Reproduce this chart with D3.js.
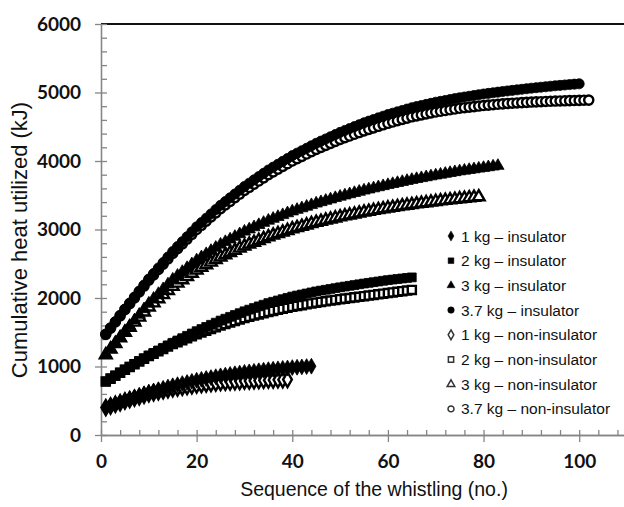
<!DOCTYPE html>
<html>
<head>
<meta charset="utf-8">
<script src="https://d3js.org/d3.v7.min.js"></script>
<style>
  body { margin: 0; background: #fff; }
  .tickLabel { font-family: Lato, "Liberation Sans", sans-serif; font-weight: bold; font-size: 19px; fill: #111; }
  .axisText { font-family: "Liberation Sans", Arial, sans-serif; font-size: 19.5px; fill: #111; }
  .legendText { font-family: "Liberation Sans", Arial, sans-serif; font-size: 15.5px; fill: #111; }
</style>
</head>
<body>
<div id="chart"></div>
<script>
//svg size
let svgWidth = 624;
let svgHeight = 507;

//cumulative heat (kJ) for each whistle, whistle no. = index + 1
let ins1 = [400,426,452,478,504,528,552,576,600,624,643,662,681,700,719,735,751,767,783,799,812,825,838,851,864,874,884,894,904,914,922,930,938,946,954,960,966,972,978,984,989,994,999,1004];
let ins2 = [780,824,868,912,956,997,1038,1079,1120,1161,1198,1235,1272,1309,1346,1380,1414,1448,1482,1516,1547,1578,1609,1640,1671,1698,1725,1752,1779,1806,1830,1854,1878,1902,1926,1945,1964,1983,2002,2021,2036,2051,2066,2081,2096,2108,2120,2132,2144,2156,2167,2178,2189,2200,2211,2221,2231,2241,2251,2261,2269,2277,2285,2293,2301];
let ins3 = [1170,1255,1340,1425,1510,1592,1674,1756,1838,1920,1990,2060,2130,2200,2270,2326,2382,2438,2494,2550,2596,2642,2688,2734,2780,2818,2856,2894,2932,2970,3002,3034,3066,3098,3130,3157,3184,3211,3238,3265,3288,3311,3334,3357,3380,3400,3420,3440,3460,3480,3498,3516,3534,3552,3570,3586,3602,3618,3634,3650,3665,3680,3695,3710,3725,3738,3751,3764,3777,3790,3802,3814,3826,3838,3850,3860,3870,3880,3890,3900,3910,3920,3930];
let ins37 = [1470,1562,1654,1746,1838,1926,2014,2102,2190,2278,2358,2438,2518,2598,2678,2750,2822,2894,2966,3038,3101,3164,3227,3290,3353,3408,3463,3518,3573,3628,3676,3724,3772,3820,3868,3910,3952,3994,4036,4078,4114,4150,4186,4222,4258,4290,4322,4354,4386,4418,4446,4474,4502,4530,4558,4582,4606,4630,4654,4678,4698,4718,4738,4758,4778,4794,4810,4826,4842,4858,4871,4884,4897,4910,4923,4934,4945,4956,4967,4978,4987,4996,5005,5014,5023,5031,5039,5047,5055,5063,5070,5077,5084,5091,5098,5104,5110,5116,5122,5127];
let non1 = [400,424,448,472,496,517,538,559,580,601,616,631,646,661,676,687,698,709,720,731,738,745,752,759,766,770,774,778,782,786,789,792,795,798,801,803,805,807,809];
let non2 = [780,823,866,909,952,992,1032,1072,1112,1152,1187,1222,1257,1292,1327,1356,1385,1414,1443,1472,1497,1522,1547,1572,1597,1619,1641,1663,1685,1707,1725,1743,1761,1779,1797,1812,1827,1842,1857,1872,1884,1896,1908,1920,1932,1942,1952,1962,1972,1982,1991,2000,2009,2018,2027,2036,2045,2054,2063,2072,2081,2090,2099,2108,2117];
let non3 = [1170,1252,1334,1416,1498,1572,1646,1720,1794,1868,1928,1988,2048,2108,2168,2216,2264,2312,2360,2408,2446,2484,2522,2560,2598,2630,2662,2694,2726,2758,2785,2812,2839,2866,2893,2916,2939,2962,2985,3008,3027,3046,3065,3084,3103,3119,3135,3151,3167,3183,3197,3211,3225,3239,3253,3265,3277,3289,3301,3313,3323,3333,3343,3353,3363,3372,3381,3390,3399,3408,3416,3424,3432,3440,3448,3455,3462,3469,3476];
let non37 = [1470,1560,1650,1740,1830,1916,2002,2088,2174,2260,2338,2416,2494,2572,2650,2720,2790,2860,2930,3000,3061,3122,3183,3244,3305,3358,3411,3464,3517,3570,3616,3662,3708,3754,3800,3840,3880,3920,3960,4000,4034,4068,4102,4136,4170,4199,4228,4257,4286,4315,4340,4365,4390,4415,4440,4462,4484,4506,4528,4550,4569,4588,4607,4626,4645,4659,4673,4687,4701,4715,4726,4737,4748,4759,4770,4778,4786,4794,4802,4810,4816,4822,4828,4834,4840,4844,4848,4852,4856,4860,4863,4866,4869,4872,4875,4877,4879,4881,4883,4885,4887,4889];

//legend names
let seriesNames = ['1 kg – insulator','2 kg – insulator','3 kg – insulator','3.7 kg – insulator',
                   '1 kg – non-insulator','2 kg – non-insulator','3 kg – non-insulator','3.7 kg – non-insulator'];

//tick values
let xTicks = [0,20,40,60,80,100];
let xMinor = d3.range(0,112,4);
let yTicks = [0,1000,2000,3000,4000,5000,6000];
let yMinor = d3.range(0,6001,200);

//series table (data + marker)
let series = [
    {name: seriesNames[0], values: ins1, shape: d3.symbolDiamond, size: 72, open: false},
    {name: seriesNames[1], values: ins2, shape: d3.symbolSquare, size: 78, open: false},
    {name: seriesNames[2], values: ins3, shape: d3.symbolTriangle, size: 66, open: false},
    {name: seriesNames[3], values: ins37, shape: d3.symbolCircle, size: 80, open: false},
    {name: seriesNames[4], values: non1, shape: d3.symbolDiamond, size: 66, open: true},
    {name: seriesNames[5], values: non2, shape: d3.symbolSquare, size: 66, open: true},
    {name: seriesNames[6], values: non3, shape: d3.symbolTriangle, size: 60, open: true},
    {name: seriesNames[7], values: non37, shape: d3.symbolCircle, size: 66, open: true}
];

let svg = d3.select('#chart')
            .append('svg')
            .attr('width', svgWidth)
            .attr('height', svgHeight);

//scales
let xScale = d3.scaleLinear().domain([0,110]).range([101,627]);
let yScale = d3.scaleLinear().domain([0,6000]).range([435,24]);

//top frame line
svg.append('line')
   .attr('x1', xScale(0)).attr('x2', svgWidth)
   .attr('y1', yScale(6000)).attr('y2', yScale(6000))
   .attr('stroke', '#111')
   .attr('stroke-width', 2);

//y axis: major ticks cross, all ticks in
svg.append('g')
   .attr('transform', `translate(${xScale(0)},0)`)
   .call(d3.axisLeft(yScale).tickValues(yTicks).tickSize(6).tickSizeOuter(0).tickPadding(14).tickFormat(d3.format('d')));
svg.append('g')
   .attr('transform', `translate(${xScale(0)},0)`)
   .call(d3.axisRight(yScale).tickValues(yMinor).tickSize(6).tickSizeOuter(0).tickFormat(''));

//x axis
svg.append('g')
   .attr('transform', `translate(0,${yScale(0)})`)
   .call(d3.axisBottom(xScale).tickValues(xTicks).tickSize(7).tickSizeOuter(0).tickPadding(13).tickFormat(d3.format('d')));
svg.append('g')
   .attr('transform', `translate(0,${yScale(0)})`)
   .call(d3.axisTop(xScale).tickValues(xMinor).tickSize(5).tickSizeOuter(0).tickFormat(''));

svg.selectAll('.domain, .tick line').attr('stroke', '#858585').attr('stroke-width', 1.3);
svg.selectAll('.tick text').attr('class', 'tickLabel');

//markers: open (non-insulator) first, filled ones drawn over them
let drawOrder = series.filter(s => s.open).concat(series.filter(s => !s.open));
drawOrder.forEach(s => {
    let sym = d3.symbol().type(s.shape).size(s.size);
    svg.append('g')
       .selectAll('path')
       .data(s.values)
       .enter()
       .append('path')
       .attr('d', sym)
       .attr('transform', (d, i) => `translate(${xScale(i + 1)},${yScale(d)})`)
       .attr('fill', s.open ? '#fff' : '#000')
       .attr('stroke', '#000')
       .attr('stroke-width', s.open ? 2.4 : 0.8);
});

//legend
let legend = svg.append('g').attr('transform', 'translate(451,236)');
series.forEach((s, i) => {
    let row = legend.append('g').attr('transform', `translate(0,${i * 24.7})`);
    row.append('path')
       .attr('d', d3.symbol().type(s.shape).size(s.size * 0.42))
       .attr('fill', s.open ? '#fff' : '#000')
       .attr('stroke', s.open ? '#333' : '#000')
       .attr('stroke-width', s.open ? 1.5 : 0.5);
    row.append('text')
       .attr('x', 10)
       .attr('dy', '0.36em')
       .attr('class', 'legendText')
       .text(s.name);
});

//axis titles
svg.append('text')
   .attr('transform', 'translate(374,496)')
   .attr('text-anchor', 'middle')
   .attr('class', 'axisText')
   .text('Sequence of the whistling (no.)');
svg.append('text')
   .attr('transform', 'translate(27,240) rotate(-90)')
   .attr('text-anchor', 'middle')
   .attr('class', 'axisText')
   .style('font-size', '22px')
   .text('Cumulative heat utilized (kJ)');
</script>
</body>
</html>
